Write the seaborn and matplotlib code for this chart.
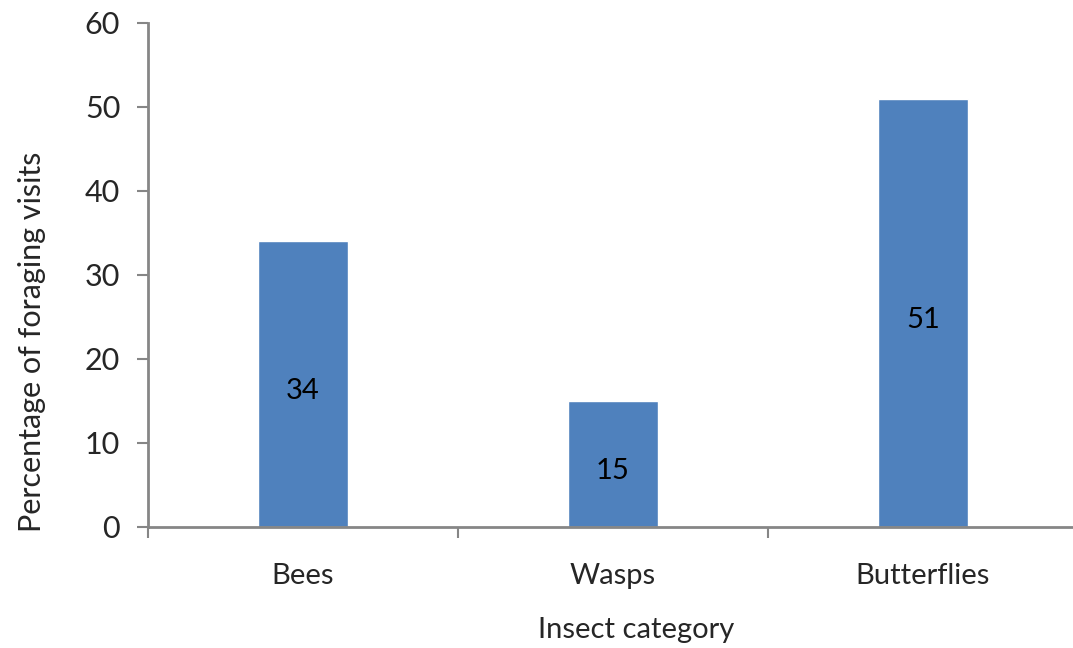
import matplotlib
matplotlib.use("Agg")
import matplotlib.pyplot as plt
import seaborn as sns
import pandas as pd

categories = ["Bees", "Wasps", "Butterflies"]
percentages = [34, 15, 51]
y_ticks = [0, 10, 20, 30, 40, 50, 60]

sns.set_style("white")
plt.rcParams["font.family"] = ["Lato", "DejaVu Sans"]

df = pd.DataFrame({"category": categories, "pct": percentages})

fig = plt.figure(figsize=(10.73, 6.48), dpi=100)
ax = fig.add_axes([148 / 1073, 1 - 527 / 648, 930 / 1073, 504 / 648])

sns.barplot(data=df, x="category", y="pct", color="#4F81BD", saturation=1,
            width=0.29, ax=ax)

# value labels centred inside each bar
for patch, val in zip(ax.patches, percentages):
    ax.annotate(f"{val}", (patch.get_x() + patch.get_width() / 2, val / 2),
                xytext=(0, -5), textcoords="offset points",
                ha="center", va="center", fontsize=21, color="black")

ax.set_xlim(-0.5, 2.5)
ax.set_ylim(0, 60)
ax.set_yticks(y_ticks)
ax.tick_params(axis="y", labelsize=22, length=8, width=1.5, color="#868686",
               pad=12, direction="out", left=True)
ax.set_xticks([-0.5, 0.5, 1.5], minor=True)
ax.tick_params(axis="x", which="major", length=0, labelsize=21, pad=26)
ax.tick_params(axis="x", which="minor", length=8, width=1.5, color="#868686",
               direction="out", bottom=True)

for side in ["top", "right"]:
    ax.spines[side].set_visible(False)
for side in ["left", "bottom"]:
    ax.spines[side].set_color("#868686")
    ax.spines[side].set_linewidth(2)

ax.set_xlabel("Insect category", fontsize=21)
ax.set_ylabel("Percentage of foraging visits", fontsize=22)
ax.xaxis.set_label_coords(0.525, -0.178)
ax.yaxis.set_label_coords(-0.11, 0.367)

fig.savefig("out.png", dpi=100)
